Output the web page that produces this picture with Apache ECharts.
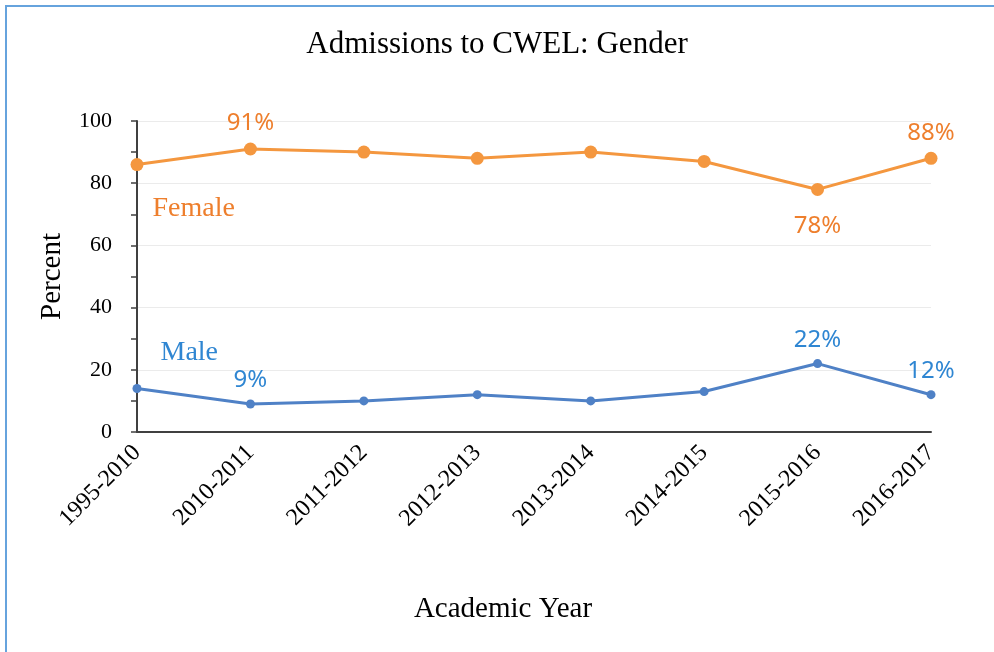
<!DOCTYPE html>
<html>
<head>
<meta charset="utf-8">
<script src="https://cdn.jsdelivr.net/npm/echarts@6/dist/echarts.min.js"></script>
<style>
  html, body { margin: 0; padding: 0; background: #fff; }
  #chart { width: 994px; height: 652px; }
  #frame {
    position: absolute; left: 5px; top: 5px; width: 989px; height: 647px;
    border-top: 2px solid #66A3DD; border-left: 2px solid #66A3DD;
    box-sizing: border-box; pointer-events: none;
  }
</style>
</head>
<body>
<div id="chart"></div>
<div id="frame"></div>
<script>
// Data
const years = ['1995-2010', '2010-2011', '2011-2012', '2012-2013', '2013-2014', '2014-2015', '2015-2016', '2016-2017'];
const female = [86, 91, 90, 88, 90, 87, 78, 88];
const male = [14, 9, 10, 12, 10, 13, 22, 12];
const femaleShown = [1, 6, 7];
const maleShown = [1, 6, 7];

const serif = '"Liberation Serif", "Times New Roman", serif';
const sans = '"Noto Sans", "Liberation Sans", sans-serif';

function buildData(values, shown, name, nameOffset, color, below) {
    return values.map((v, i) => {
        if (i === 0) {
            return {
                value: v,
                label: {
                    show: true, position: 'right', offset: nameOffset,
                    formatter: name, color: color,
                    fontFamily: serif, fontSize: 28
                }
            };
        }
        if (shown.indexOf(i) >= 0) {
            return {
                value: v,
                label: {
                    show: true,
                    position: below.indexOf(i) >= 0 ? 'bottom' : 'top',
                    distance: below.indexOf(i) >= 0 ? 18 : 7,
                    formatter: '{c}%', color: color,
                    fontFamily: sans, fontSize: 24
                }
            };
        }
        return v;
    });
}

const chart = echarts.init(document.getElementById('chart'));
chart.setOption({
    animation: false,
    title: {
        text: 'Admissions to CWEL: Gender',
        left: 'center', top: 24,
        textStyle: { fontFamily: serif, fontSize: 31, fontWeight: 'normal', color: '#000' }
    },
    grid: { left: 137, right: 63, top: 121, bottom: 220 },
    xAxis: {
        type: 'category',
        data: years,
        boundaryGap: false,
        name: 'Academic Year',
        nameLocation: 'middle',
        nameGap: 163,
        nameTextStyle: { fontFamily: serif, fontSize: 29, color: '#000', padding: [0, 62, 0, 0] },
        axisLine: { lineStyle: { color: '#404040', width: 2 } },
        axisTick: { show: false },
        axisLabel: { rotate: 45, fontFamily: serif, fontSize: 24, color: '#000', margin: 17 }
    },
    yAxis: {
        type: 'value',
        min: 0, max: 100, interval: 20,
        name: 'Percent',
        nameLocation: 'middle',
        nameGap: 70,
        nameTextStyle: { fontFamily: serif, fontSize: 29, color: '#000' },
        axisLine: { show: true, lineStyle: { color: '#404040', width: 2 } },
        axisTick: { show: true, length: 6, lineStyle: { color: '#404040', width: 1.5 } },
        minorTick: { show: true, splitNumber: 2, length: 6, lineStyle: { color: '#404040', width: 1.5 } },
        axisLabel: { fontFamily: serif, fontSize: 22, color: '#000', margin: 25 },
        splitLine: { lineStyle: { color: '#EBEBEB', width: 1 } }
    },
    series: [
        {
            name: 'Female',
            type: 'line',
            data: buildData(female, femaleShown, 'Female', [4, 44], '#EE7F2D', [6]),
            symbol: 'circle', symbolSize: 13,
            itemStyle: { color: '#F4973F' },
            lineStyle: { color: '#F4973F', width: 3 }
        },
        {
            name: 'Male',
            type: 'line',
            data: buildData(male, maleShown, 'Male', [14, -36], '#2F86D2', []),
            symbol: 'circle', symbolSize: 9,
            itemStyle: { color: '#4F81C6' },
            lineStyle: { color: '#4F81C6', width: 3 }
        }
    ]
});
</script>
</body>
</html>
